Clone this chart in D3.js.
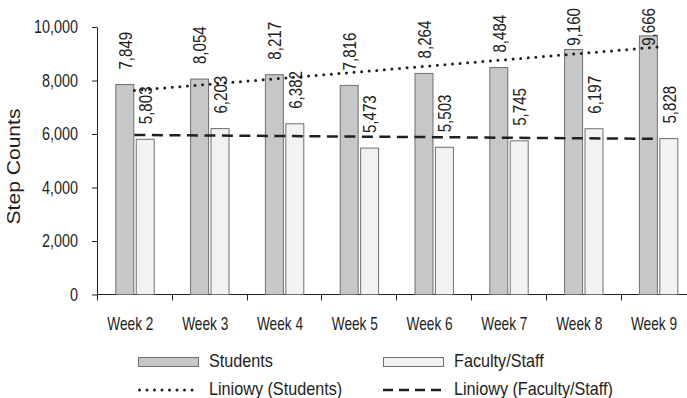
<!DOCTYPE html>
<html>
<head>
<meta charset="utf-8">
<script src="https://cdn.jsdelivr.net/npm/d3@7"></script>
<style>
  html, body { margin: 0; padding: 0; background: #fff; }
  svg { display: block; }
  text { font-family: "Liberation Sans", Arial, sans-serif; fill: #1e1e1e; }
</style>
</head>
<body>
<svg id="chart" width="687" height="398"></svg>
<script>
// Weekly average step counts
const weeks = ["Week 2", "Week 3", "Week 4", "Week 5", "Week 6", "Week 7", "Week 8", "Week 9"];
const students = [7849, 8054, 8217, 7816, 8264, 8484, 9160, 9666];
const faculty = [5803, 6203, 6382, 5473, 5503, 5745, 6197, 5828];
const yTicks = [0, 2000, 4000, 6000, 8000, 10000];
const seriesNames = ["Students", "Faculty/Staff"];
const trendNames = ["Liniowy (Students)", "Liniowy (Faculty/Staff)"];

const svg = d3.select("#chart");
const ink = "#231f20";
const fills = ["#c6c7c9", "#f1f2f4"];
const barStroke = "#6f6f6f";
const fmt = d3.format(",");

const x = d3.scaleBand().domain(weeks).range([97, 695.4]).padding(0);
const y = d3.scaleLinear().domain([0, 10000]).range([294.5, 27]);
const inner = d3.scaleBand().domain(seriesNames).range([18.3, 56.7]).paddingInner(0.12);

// narrow lettering: place a text at (ax, ay), optionally rotated, squeezed along its reading direction
function place(sel, ax, ay, f, rot = 0) {
  return sel.attr("x", 0).attr("y", 0)
    .attr("transform", (d, i, n) => {
      const px = typeof ax === "function" ? ax(d, i, n) : ax;
      const py = typeof ay === "function" ? ay(d, i, n) : ay;
      return `translate(${px},${py})` + (rot ? ` rotate(${rot})` : "") + ` scale(${f},1)`;
    });
}

// linear least-squares trend over category index
function trend(vals) {
  const xs = vals.map((_, i) => i + 1);
  const mx = d3.mean(xs), my = d3.mean(vals);
  const b = d3.sum(xs, (xi, i) => (xi - mx) * (vals[i] - my)) / d3.sum(xs, xi => (xi - mx) ** 2);
  const a = my - b * mx;
  return xs.map(xi => a + b * xi);
}

// y axis
const yAxis = svg.append("g")
  .attr("transform", "translate(97,0)")
  .call(d3.axisLeft(y).tickValues(yTicks).tickSize(5).tickSizeOuter(0).tickPadding(14).tickFormat(fmt));
yAxis.select(".domain").attr("stroke", ink);
yAxis.selectAll(".tick line").attr("stroke", ink);
yAxis.selectAll(".tick text").attr("font-size", 18).attr("fill", "#1e1e1e")
  .style("font-family", "'Liberation Sans', Arial, sans-serif")
  .call(place, -19, 0, 0.8);

// x axis baseline and category boundary ticks
svg.append("line").attr("x1", 97).attr("x2", 695.4).attr("y1", y(0)).attr("y2", y(0))
  .attr("stroke", ink);
svg.append("g").selectAll("line").data(weeks).join("line")
  .attr("x1", d => Math.round(x(d)) + 0.5).attr("x2", d => Math.round(x(d)) + 0.5)
  .attr("y1", y(0)).attr("y2", y(0) + 6).attr("stroke", ink);
svg.append("g").selectAll("text").data(weeks).join("text")
  .attr("text-anchor", "middle").attr("font-size", 18).text(d => d)
  .call(place, d => x(d) + x.bandwidth() / 2 - 4, 330, 0.76);

// y axis title
svg.append("text").attr("text-anchor", "middle").attr("font-size", 18).text("Step Counts")
  .call(place, 19.5, 166.5, 1.17, -90);

// bars
const rows = weeks.map((w, i) => ({ week: w, values: [students[i], faculty[i]] }));
const groups = svg.append("g").selectAll("g").data(rows).join("g")
  .attr("transform", d => `translate(${x(d.week)},0)`);
groups.selectAll("rect").data(d => d.values.map((v, k) => ({ k, v }))).join("rect")
  .attr("x", d => inner(seriesNames[d.k]) + 0.5)
  .attr("y", d => y(d.v))
  .attr("width", inner.bandwidth())
  .attr("height", d => y(0) - y(d.v))
  .attr("fill", d => fills[d.k])
  .attr("stroke", barStroke).attr("stroke-width", 1);

// value labels, rotated, kept inside the top of the plot
const labelSqueeze = 0.84;
groups.selectAll("text").data(d => d.values.map((v, k) => ({ k, v }))).join("text")
  .attr("font-size", 18).attr("text-anchor", "start").attr("dy", "0.35em")
  .text(d => fmt(d.v))
  .call(place,
    d => inner(seriesNames[d.k]) + inner.bandwidth() / 2 + 1,
    (d, i, n) => {
      const len = n[i].getComputedTextLength() * labelSqueeze;
      return Math.max(y(d.v) - 15, 8 + len);
    },
    labelSqueeze, -90);

// trend lines
const line = d3.line().x((_, i) => x(weeks[i]) + x.bandwidth() / 2).y(d => y(d));
svg.append("path").attr("d", line(trend(students))).attr("fill", "none")
  .attr("stroke", ink).attr("stroke-width", 3).attr("stroke-linecap", "round")
  .attr("stroke-dasharray", "0 7.6");
svg.append("path").attr("d", line(trend(faculty))).attr("fill", "none")
  .attr("stroke", ink).attr("stroke-width", 2.5)
  .attr("stroke-dasharray", "11 6.5");

// legend
const lg = svg.append("g");
const legendX = [138, 383];
const legendSqueeze = 0.9;
seriesNames.forEach((name, k) => {
  lg.append("rect").attr("x", legendX[k] + 0.5).attr("y", 357.5).attr("width", 60).attr("height", 9)
    .attr("fill", fills[k]).attr("stroke", barStroke);
  lg.append("text").attr("font-size", 18).text(name)
    .call(place, legendX[k] + 71, 367, legendSqueeze);
});
lg.append("line").attr("x1", legendX[0] + 1.5).attr("x2", legendX[0] + 61).attr("y1", 390).attr("y2", 390)
  .attr("stroke", ink).attr("stroke-width", 3).attr("stroke-linecap", "round")
  .attr("stroke-dasharray", "0 7.5");
lg.append("line").attr("x1", legendX[1]).attr("x2", legendX[1] + 61).attr("y1", 390).attr("y2", 390)
  .attr("stroke", ink).attr("stroke-width", 2.5).attr("stroke-dasharray", "10 6");
trendNames.forEach((name, k) => {
  lg.append("text").attr("font-size", 18).text(name)
    .call(place, legendX[k] + 71, 395, legendSqueeze);
});
</script>
</body>
</html>
